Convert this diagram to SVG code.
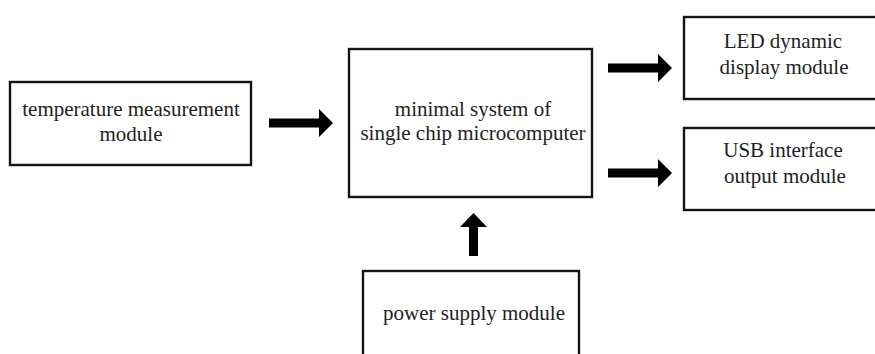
<svg xmlns="http://www.w3.org/2000/svg" width="875" height="354" viewBox="0 0 875 354">
  <style>
    .box { fill: #ffffff; stroke: #141414; stroke-width: 2.4; }
    .label { font-family: "Liberation Serif", "Times New Roman", serif; font-size: 21px; fill: #222222; text-anchor: middle; }
    .arrow { fill: #000000; }
  </style>
  <defs>
    <!-- thick block arrow pointing right, origin at the tail centre -->
    <path id="blockArrow" d="M0,-4.5 H50 V-14 L64,0 L50,14 V4.5 H0 Z"/>
  </defs>
  <rect width="875" height="354" fill="#ffffff"/>

  <g id="temperature">
    <rect class="box" x="10" y="82" width="241" height="83"/>
    <text class="label" x="131" y="116">temperature measurement</text>
    <text class="label" x="131" y="141">module</text>
  </g>

  <g id="mcu">
    <rect class="box" x="349" y="49" width="243" height="148"/>
    <text class="label" x="473" y="116">minimal system of</text>
    <text class="label" x="473" y="140">single chip microcomputer</text>
  </g>

  <g id="led">
    <rect class="box" x="684" y="17" width="200" height="82"/>
    <text class="label" x="783" y="48">LED dynamic</text>
    <text class="label" x="784" y="74">display module</text>
  </g>

  <g id="usb">
    <rect class="box" x="684" y="128" width="200" height="82"/>
    <text class="label" x="783" y="157">USB interface</text>
    <text class="label" x="785" y="183">output module</text>
  </g>

  <g id="power">
    <rect class="box" x="363" y="271" width="216" height="100"/>
    <text class="label" x="474" y="320">power supply module</text>
  </g>

  <g id="connectors" class="arrow">
    <use href="#blockArrow" transform="translate(269,123)"/>
    <use href="#blockArrow" transform="translate(608,68)"/>
    <use href="#blockArrow" transform="translate(608,173)"/>
    <path d="M469,256 V227 H460 L473.5,213 L487,227 H478 V256 Z"/>
  </g>
</svg>
